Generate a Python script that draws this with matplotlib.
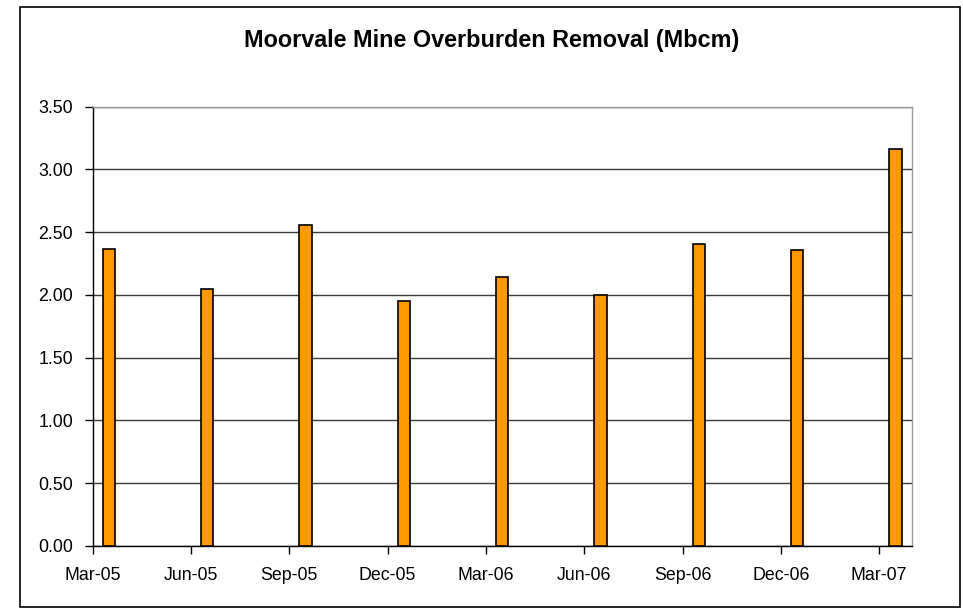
import matplotlib.pyplot as plt
import numpy as np
from matplotlib.patches import Rectangle

plt.rcParams['font.family'] = ['Liberation Sans', 'DejaVu Sans']

# quarterly data, one bar per quarter-end month
quarters = ['Mar-05', 'Jun-05', 'Sep-05', 'Dec-05', 'Mar-06',
            'Jun-06', 'Sep-06', 'Dec-06', 'Mar-07']
removal = [2.37, 2.05, 2.56, 1.95, 2.14, 2.00, 2.41, 2.36, 3.16]
y_ticks = [0.0, 0.5, 1.0, 1.5, 2.0, 2.5, 3.0, 3.5]

W, H = 963, 608
fig = plt.figure(figsize=(W / 100, H / 100), dpi=100)

# outer chart border
fig.patches.append(Rectangle((19.5 / W, 1 - 606.5 / H), (960 - 19.5) / W, (606.5 - 6.7) / H,
                             transform=fig.transFigure, fill=False,
                             edgecolor='black', linewidth=1.2))

ax = fig.add_axes([92.5 / W, 1 - 546 / H, (912 - 92.5) / W, (546 - 106.7) / H])

# date axis in months from Mar-05, each bar sits in the middle of its month slot
months = np.arange(len(quarters)) * 3
ax.bar(months + 0.5, removal, width=0.38, color='#FF9900',
       edgecolor='black', linewidth=1.2, zorder=3)

ax.set_xlim(0, months[-1] + 1)
ax.set_ylim(0, 3.5)
ax.set_xticks(months)
ax.set_xticklabels(quarters)
ax.set_yticks(y_ticks)
ax.set_yticklabels(['%.2f' % v for v in y_ticks])

ax.yaxis.grid(True, color='#3a3a3a', linewidth=1.0, zorder=0)
ax.tick_params(axis='both', direction='out', length=6, width=1.0,
               color='black', labelsize=12.8)
ax.tick_params(axis='x', pad=9)
ax.tick_params(axis='y', pad=8)

ax.spines['left'].set_color('black')
ax.spines['bottom'].set_color('black')
ax.spines['top'].set_color('#9a9a9a')
ax.spines['right'].set_color('#9a9a9a')
for s in ax.spines.values():
    s.set_linewidth(1.0)

fig.text(492 / W, 1 - 40 / H, 'Moorvale Mine Overburden Removal (Mbcm)',
         ha='center', va='center', fontsize=16.8, fontweight='bold')

fig.savefig('out.png', dpi=100)
